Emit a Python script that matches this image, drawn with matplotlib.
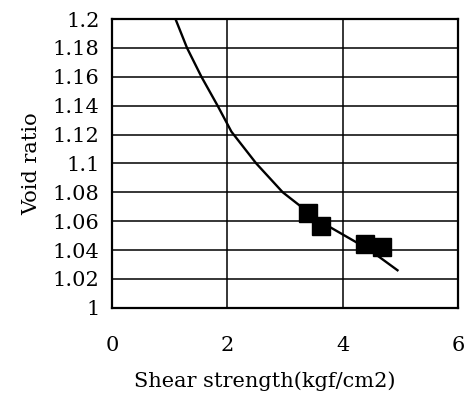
import matplotlib.pyplot as plt

plt.rcParams['font.family'] = ['DejaVu Serif']

# fitted curve of void ratio against shear strength
curve_strength = [1.1, 1.3, 1.55, 1.83, 2.07, 2.5, 2.96, 3.6, 4.47, 4.95]
curve_void = [1.200, 1.180, 1.160, 1.140, 1.122, 1.100, 1.080, 1.060, 1.040, 1.026]

# measured samples
test_strength = [3.39, 3.63, 4.38, 4.68]
test_void = [1.066, 1.057, 1.044, 1.042]

x_ticks = [0, 2, 4, 6]
y_ticks = [1.0, 1.02, 1.04, 1.06, 1.08, 1.1, 1.12, 1.14, 1.16, 1.18, 1.2]

fig = plt.figure(figsize=(4.65, 4.05), dpi=100)
ax = fig.add_axes([0.241, 0.24, 0.744, 0.713])

ax.plot(curve_strength, curve_void, color='black', lw=1.7, zorder=3)
ax.plot(test_strength, test_void, 's', color='black', markersize=13, zorder=4)

ax.set_xlim(0, 6)
ax.set_ylim(1.0, 1.2)
ax.set_xticks(x_ticks)
ax.set_yticks(y_ticks)
ax.set_xticklabels([str(v) for v in x_ticks])
ax.set_yticklabels(['%g' % v for v in y_ticks])
ax.tick_params(axis='both', length=0, labelsize=15)
ax.tick_params(axis='x', pad=20)
ax.tick_params(axis='y', pad=9)
ax.grid(True, color='black', lw=1.1)
for s in ax.spines.values():
    s.set_linewidth(1.6)

ax.set_xlabel('Shear strength(kgf/cm2)', fontsize=15)
ax.xaxis.set_label_coords(0.44, -0.22)
ax.set_ylabel('Void ratio', fontsize=15, labelpad=8)

fig.savefig('out.png', dpi=100)
